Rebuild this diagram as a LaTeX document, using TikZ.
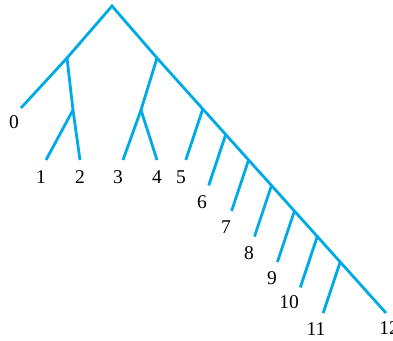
\documentclass[tikz,border=0pt]{standalone}
\usepackage{fontspec}
\setmainfont{Liberation Serif}
\usetikzlibrary{calc}
\definecolor{treeblue}{RGB}{0,170,230}
\tikzset{
  edge/.style={draw=treeblue, line width=2.8pt},
  leaflabel/.style={inner sep=0pt, font=\fontsize{19.5}{21}\selectfont}
}

\begin{document}
\begin{tikzpicture}[x=1pt, y=-1pt]
  \useasboundingbox (0,0) rectangle (393,340);
  % inner vertices
  \coordinate (root) at (112,6);
  \coordinate (a) at (67,58);
  \coordinate (b) at (73,110);
  \coordinate (c) at (157,58);
  \coordinate (d) at (141,110);
  % leaf ends
  \coordinate (e0) at (21,108);
  \coordinate (e1) at (46,160);
  \coordinate (e2) at (80,160);
  \coordinate (e3) at (123,160);
  \coordinate (e4) at (157,160);
  \coordinate (e12) at (386,313);
  \draw[edge] (e0) -- (a) -- (root) -- (c) -- (e12);
  \draw[edge] (a) -- (b) -- (e1);
  \draw[edge] (b) -- (e2);
  \draw[edge] (c) -- (d) -- (e3);
  \draw[edge] (d) -- (e4);
  % teeth along the long branch
  \foreach \k in {5,...,11} {
    \coordinate (s\k) at ($(c)!{(\k-3)/10}!(e12)$);
    \coordinate (e\k) at ($(s\k)+(-17,51)$);
    \draw[edge] (s\k) -- (e\k);
  }
  % labels
  \foreach \k/\lx/\ly in {0/14/122, 1/41/177, 2/80/177, 3/118/177, 4/157/177,
      5/181/177, 6/202/202, 7/226/227, 8/249/253, 9/272/278,
      10/289/302, 11/316/329, 12/389/328}
    \node[leaflabel] (l\k) at (\lx,\ly) {\k};
\end{tikzpicture}
\end{document}
